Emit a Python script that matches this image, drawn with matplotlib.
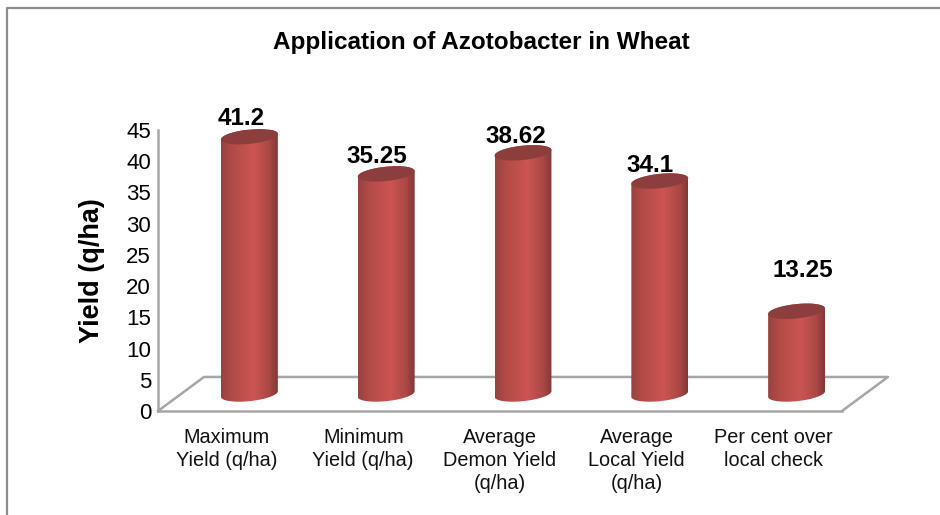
import numpy as np
import matplotlib
matplotlib.use('Agg')
import matplotlib.pyplot as plt
from matplotlib.colors import LinearSegmentedColormap
from matplotlib.patches import PathPatch
from matplotlib.path import Path

plt.rcParams['font.family'] = ['Liberation Sans', 'DejaVu Sans']

categories = ['Maximum\nYield (q/ha)', 'Minimum\nYield (q/ha)', 'Average\nDemon Yield\n(q/ha)',
              'Average\nLocal Yield\n(q/ha)', 'Per cent over\nlocal check']
values = [41.2, 35.25, 38.62, 34.1, 13.25]
value_labels = ['41.2', '35.25', '38.62', '34.1', '13.25']
y_ticks = list(range(0, 50, 5))

# 3D look: floor depth and cylinder size, in axis units
depth_x = 0.336
depth_y = 5.45
half_w = 0.208
ell_h = 2.3
tilt = 0.45

# where the labels sit relative to the top of their bar, in points
label_dx = [-6, -7, -5, -7, 4.5]
label_dy = [13, 12.5, 11.5, 11, 29.5]

shade = LinearSegmentedColormap.from_list('cyl', [
    (0.0, '#98423f'), (0.2, '#b34b48'), (0.58, '#cb5552'), (0.85, '#aa4846'), (1.0, '#823836')])


def draw_cylinder(ax, x, base, top):
    # side wall outline, with the slightly tilted ellipse at both ends
    t = np.linspace(np.pi, 2 * np.pi, 40)
    bx = x + half_w * np.cos(t)
    by = base + ell_h / 2 * np.sin(t) + tilt * np.cos(t)
    t2 = t[::-1]
    tx = x + half_w * np.cos(t2)
    ty = top - ell_h / 2 * np.sin(t2) + tilt * np.cos(t2)
    verts = np.column_stack([np.r_[bx, tx], np.r_[by, ty]])
    clip = PathPatch(Path(np.vstack([verts, verts[0]])), transform=ax.transData, fc='none', ec='none')
    ax.add_patch(clip)
    grad = np.linspace(0, 1, 128).reshape(1, -1)
    im = ax.imshow(grad, cmap=shade, aspect='auto', zorder=3,
                   extent=[x - half_w, x + half_w, base - 3, top + 3])
    im.set_clip_path(clip)
    # lid
    t3 = np.linspace(0, 2 * np.pi, 80)
    lx = x + half_w * np.cos(t3)
    ly = top + ell_h / 2 * np.sin(t3) + tilt * np.cos(t3)
    ax.fill(lx, ly, color='#8c3e3c', zorder=4, lw=0, clip_on=False)


fig = plt.figure(figsize=(9.4, 5.15), dpi=100)
ax = fig.add_axes([158 / 940, (515 - 411) / 515, (842 - 158) / 940, (411 - 130) / 515])
ax.patch.set_alpha(0)

# outer chart frame
fig.add_artist(plt.Line2D([7 / 940, 7 / 940, 1], [0, (515 - 7.5) / 515, (515 - 7.5) / 515],
                          color='#8c8c8c', lw=1.6))

for i, v in enumerate(values):
    x = i + 0.5 + depth_x / 2
    top = depth_y / 2 + v
    draw_cylinder(ax, x, depth_y / 2, top)
    ax.annotate(value_labels[i], (x, top), xytext=(label_dx[i], label_dy[i]), textcoords='offset points',
                ha='center', va='center', fontsize=17.5, fontweight='bold', color='black', zorder=5)

# floor of the 3D plot
line_c = '#a6a6a6'
ax.plot([0, depth_x, 5 + depth_x, 5], [0, depth_y, depth_y, 0], color=line_c, lw=1.8, clip_on=False, zorder=1)

ax.set_xlim(0, 5)
ax.set_ylim(0, 45)
ax.set_xticks([i + 0.5 for i in range(5)])
ax.set_xticklabels(categories, fontsize=14.3, linespacing=1.29, color='#111111')
ax.set_yticks(y_ticks)
ax.tick_params(axis='y', labelsize=16, length=0, pad=5)
ax.tick_params(axis='x', length=0, pad=12)
for s in ['top', 'right']:
    ax.spines[s].set_visible(False)
for s in ['left', 'bottom']:
    ax.spines[s].set_color(line_c)
    ax.spines[s].set_linewidth(1.8)
ax.set_ylabel('Yield (q/ha)', fontsize=19.5, fontweight='bold', labelpad=15)

fig.text(481 / 940, (515 - 42) / 515, 'Application of Azotobacter in Wheat', ha='center', va='center',
         fontsize=17.5, fontweight='bold')

fig.savefig('out.png', dpi=100)
